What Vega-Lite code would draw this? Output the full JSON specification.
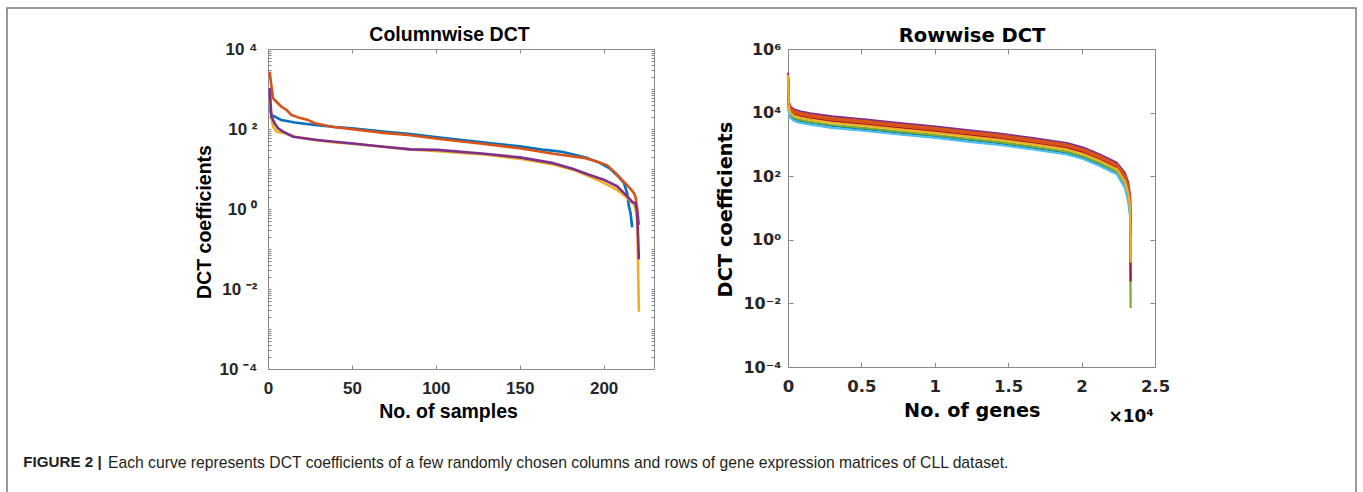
{
  "$schema": "https://vega.github.io/schema/vega-lite/v6.json",
  "width": 1349,
  "height": 486,
  "autosize": {"type": "none"},
  "padding": {"left": 7, "top": 8, "right": 7, "bottom": -2},
  "background": "white",
  "title": {
    "text": "Each curve represents DCT coefficients of a few randomly chosen columns and rows of gene expression matrices of CLL dataset.",
    "orient": "top",
    "anchor": "start",
    "frame": "group",
    "offset": -475.5,
    "dx": 101,
    "baseline": "alphabetic",
    "font": "Liberation Sans",
    "fontSize": 15.7,
    "fontWeight": "normal",
    "color": "#231f20"
  },
  "datasets": {
    "cols": [
      {"c": "c1", "n": 1, "v": 400}, {"c": "c1", "n": 2, "v": 220}, {"c": "c1", "n": 4, "v": 205}, {"c": "c1", "n": 8, "v": 167}, {"c": "c1", "n": 16, "v": 145}, {"c": "c1", "n": 28, "v": 126}, {"c": "c1", "n": 40, "v": 112}, {"c": "c1", "n": 50, "v": 104}, {"c": "c1", "n": 70, "v": 85}, {"c": "c1", "n": 85, "v": 75}, {"c": "c1", "n": 101, "v": 62}, {"c": "c1", "n": 129, "v": 46}, {"c": "c1", "n": 150, "v": 37}, {"c": "c1", "n": 165, "v": 30}, {"c": "c1", "n": 175, "v": 27}, {"c": "c1", "n": 182, "v": 23}, {"c": "c1", "n": 190, "v": 19}, {"c": "c1", "n": 198, "v": 14}, {"c": "c1", "n": 204, "v": 10}, {"c": "c1", "n": 208, "v": 7}, {"c": "c1", "n": 212, "v": 4.5}, {"c": "c1", "n": 214, "v": 2.5}, {"c": "c1", "n": 215, "v": 1.2}, {"c": "c1", "n": 216, "v": 0.8}, {"c": "c1", "n": 217, "v": 0.35},
      {"c": "c2", "n": 1, "v": 2700}, {"c": "c2", "n": 2, "v": 1200}, {"c": "c2", "n": 3, "v": 590}, {"c": "c2", "n": 5, "v": 480}, {"c": "c2", "n": 8, "v": 360}, {"c": "c2", "n": 11, "v": 300}, {"c": "c2", "n": 14, "v": 224}, {"c": "c2", "n": 18, "v": 195}, {"c": "c2", "n": 24, "v": 167}, {"c": "c2", "n": 28, "v": 139}, {"c": "c2", "n": 39, "v": 112}, {"c": "c2", "n": 49, "v": 100}, {"c": "c2", "n": 69, "v": 80}, {"c": "c2", "n": 85, "v": 70}, {"c": "c2", "n": 101, "v": 57}, {"c": "c2", "n": 129, "v": 42}, {"c": "c2", "n": 150, "v": 33}, {"c": "c2", "n": 170, "v": 24}, {"c": "c2", "n": 188, "v": 19}, {"c": "c2", "n": 196, "v": 15.5}, {"c": "c2", "n": 202, "v": 12.5}, {"c": "c2", "n": 207, "v": 8}, {"c": "c2", "n": 212, "v": 4.8}, {"c": "c2", "n": 216, "v": 3.2}, {"c": "c2", "n": 218, "v": 2.5}, {"c": "c2", "n": 219, "v": 2}, {"c": "c2", "n": 220, "v": 1.0}, {"c": "c2", "n": 221, "v": 0.4},
      {"c": "c3", "n": 1, "v": 500}, {"c": "c3", "n": 2, "v": 200}, {"c": "c3", "n": 3, "v": 115}, {"c": "c3", "n": 5, "v": 86}, {"c": "c3", "n": 10, "v": 78}, {"c": "c3", "n": 16, "v": 64}, {"c": "c3", "n": 26, "v": 55}, {"c": "c3", "n": 40, "v": 46}, {"c": "c3", "n": 50, "v": 43}, {"c": "c3", "n": 68, "v": 36}, {"c": "c3", "n": 85, "v": 31}, {"c": "c3", "n": 101, "v": 28}, {"c": "c3", "n": 129, "v": 23}, {"c": "c3", "n": 150, "v": 18}, {"c": "c3", "n": 170, "v": 13}, {"c": "c3", "n": 182, "v": 9.5}, {"c": "c3", "n": 190, "v": 7}, {"c": "c3", "n": 200, "v": 4.5}, {"c": "c3", "n": 208, "v": 3}, {"c": "c3", "n": 214, "v": 1.9}, {"c": "c3", "n": 218, "v": 1.3}, {"c": "c3", "n": 219, "v": 1.0}, {"c": "c3", "n": 220, "v": 0.5}, {"c": "c3", "n": 221, "v": 0.0027},
      {"c": "c4", "n": 1, "v": 1050}, {"c": "c4", "n": 2, "v": 205}, {"c": "c4", "n": 4, "v": 138}, {"c": "c4", "n": 6, "v": 104}, {"c": "c4", "n": 9, "v": 86}, {"c": "c4", "n": 15, "v": 64}, {"c": "c4", "n": 29, "v": 53}, {"c": "c4", "n": 49, "v": 44}, {"c": "c4", "n": 69, "v": 36}, {"c": "c4", "n": 85, "v": 31}, {"c": "c4", "n": 101, "v": 30}, {"c": "c4", "n": 129, "v": 24}, {"c": "c4", "n": 150, "v": 19.5}, {"c": "c4", "n": 170, "v": 14}, {"c": "c4", "n": 182, "v": 10}, {"c": "c4", "n": 190, "v": 7.5}, {"c": "c4", "n": 200, "v": 5.4}, {"c": "c4", "n": 208, "v": 3.7}, {"c": "c4", "n": 214, "v": 2.1}, {"c": "c4", "n": 217, "v": 1.5}, {"c": "c4", "n": 219, "v": 1.4}, {"c": "c4", "n": 220, "v": 0.8}, {"c": "c4", "n": 221, "v": 0.055}
    ],
    "rows": [
      {"r": "r1", "n": 1, "v": 90000}, {"r": "r1", "n": 60, "v": 11200}, {"r": "r1", "n": 150, "v": 7920}, {"r": "r1", "n": 400, "v": 6310}, {"r": "r1", "n": 800, "v": 5510}, {"r": "r1", "n": 1500, "v": 4790}, {"r": "r1", "n": 3000, "v": 3800}, {"r": "r1", "n": 5300, "v": 3020}, {"r": "r1", "n": 7600, "v": 2350}, {"r": "r1", "n": 9900, "v": 1860}, {"r": "r1", "n": 12200, "v": 1410}, {"r": "r1", "n": 14400, "v": 1100}, {"r": "r1", "n": 16700, "v": 792}, {"r": "r1", "n": 19000, "v": 551}, {"r": "r1", "n": 20100, "v": 398}, {"r": "r1", "n": 21200, "v": 245}, {"r": "r1", "n": 22400, "v": 132}, {"r": "r1", "n": 22950, "v": 51}, {"r": "r1", "n": 23180, "v": 19.5}, {"r": "r1", "n": 23300, "v": 7.2}, {"r": "r1", "n": 23340, "v": 1.5},
      {"r": "r2", "n": 1, "v": 100000}, {"r": "r2", "n": 60, "v": 12000}, {"r": "r2", "n": 150, "v": 8480}, {"r": "r2", "n": 400, "v": 6770}, {"r": "r2", "n": 800, "v": 5910}, {"r": "r2", "n": 1500, "v": 5130}, {"r": "r2", "n": 3000, "v": 4080}, {"r": "r2", "n": 5300, "v": 3240}, {"r": "r2", "n": 7600, "v": 2510}, {"r": "r2", "n": 9900, "v": 2000}, {"r": "r2", "n": 12200, "v": 1510}, {"r": "r2", "n": 14400, "v": 1180}, {"r": "r2", "n": 16700, "v": 849}, {"r": "r2", "n": 19000, "v": 591}, {"r": "r2", "n": 20100, "v": 426}, {"r": "r2", "n": 21200, "v": 263}, {"r": "r2", "n": 22400, "v": 141}, {"r": "r2", "n": 22950, "v": 56}, {"r": "r2", "n": 23180, "v": 22}, {"r": "r2", "n": 23300, "v": 8.1}, {"r": "r2", "n": 23340, "v": 0.0072},
      {"r": "r3", "n": 1, "v": 80000}, {"r": "r3", "n": 60, "v": 9790}, {"r": "r3", "n": 150, "v": 6900}, {"r": "r3", "n": 400, "v": 5510}, {"r": "r3", "n": 800, "v": 4810}, {"r": "r3", "n": 1500, "v": 4170}, {"r": "r3", "n": 3000, "v": 3320}, {"r": "r3", "n": 5300, "v": 2640}, {"r": "r3", "n": 7600, "v": 2050}, {"r": "r3", "n": 9900, "v": 1630}, {"r": "r3", "n": 12200, "v": 1230}, {"r": "r3", "n": 14400, "v": 957}, {"r": "r3", "n": 16700, "v": 690}, {"r": "r3", "n": 19000, "v": 481}, {"r": "r3", "n": 20100, "v": 347}, {"r": "r3", "n": 21200, "v": 214}, {"r": "r3", "n": 22400, "v": 115}, {"r": "r3", "n": 22950, "v": 43}, {"r": "r3", "n": 23180, "v": 15.4}, {"r": "r3", "n": 23300, "v": 5.6}, {"r": "r3", "n": 23340, "v": 2},
      {"r": "r4", "n": 1, "v": 178000}, {"r": "r4", "n": 60, "v": 22400}, {"r": "r4", "n": 150, "v": 15800}, {"r": "r4", "n": 400, "v": 12600}, {"r": "r4", "n": 800, "v": 11000}, {"r": "r4", "n": 1500, "v": 9550}, {"r": "r4", "n": 3000, "v": 7590}, {"r": "r4", "n": 5300, "v": 6030}, {"r": "r4", "n": 7600, "v": 4680}, {"r": "r4", "n": 9900, "v": 3720}, {"r": "r4", "n": 12200, "v": 2820}, {"r": "r4", "n": 14400, "v": 2190}, {"r": "r4", "n": 16700, "v": 1580}, {"r": "r4", "n": 19000, "v": 1100}, {"r": "r4", "n": 20100, "v": 794}, {"r": "r4", "n": 21200, "v": 490}, {"r": "r4", "n": 22400, "v": 263}, {"r": "r4", "n": 22950, "v": 126}, {"r": "r4", "n": 23180, "v": 63}, {"r": "r4", "n": 23300, "v": 25}, {"r": "r4", "n": 23340, "v": 4},
      {"r": "r5", "n": 1, "v": 150000}, {"r": "r5", "n": 60, "v": 20000}, {"r": "r5", "n": 150, "v": 14100}, {"r": "r5", "n": 400, "v": 11200}, {"r": "r5", "n": 800, "v": 9800}, {"r": "r5", "n": 1500, "v": 8510}, {"r": "r5", "n": 3000, "v": 6760}, {"r": "r5", "n": 5300, "v": 5370}, {"r": "r5", "n": 7600, "v": 4170}, {"r": "r5", "n": 9900, "v": 3310}, {"r": "r5", "n": 12200, "v": 2510}, {"r": "r5", "n": 14400, "v": 1950}, {"r": "r5", "n": 16700, "v": 1410}, {"r": "r5", "n": 19000, "v": 980}, {"r": "r5", "n": 20100, "v": 707}, {"r": "r5", "n": 21200, "v": 437}, {"r": "r5", "n": 22400, "v": 234}, {"r": "r5", "n": 22950, "v": 108}, {"r": "r5", "n": 23180, "v": 52}, {"r": "r5", "n": 23300, "v": 20}, {"r": "r5", "n": 23340, "v": 3},
      {"r": "r6", "n": 1, "v": 120000}, {"r": "r6", "n": 60, "v": 15900}, {"r": "r6", "n": 150, "v": 11200}, {"r": "r6", "n": 400, "v": 8920}, {"r": "r6", "n": 800, "v": 7790}, {"r": "r6", "n": 1500, "v": 6760}, {"r": "r6", "n": 3000, "v": 5370}, {"r": "r6", "n": 5300, "v": 4270}, {"r": "r6", "n": 7600, "v": 3310}, {"r": "r6", "n": 9900, "v": 2630}, {"r": "r6", "n": 12200, "v": 2000}, {"r": "r6", "n": 14400, "v": 1550}, {"r": "r6", "n": 16700, "v": 1120}, {"r": "r6", "n": 19000, "v": 779}, {"r": "r6", "n": 20100, "v": 562}, {"r": "r6", "n": 21200, "v": 347}, {"r": "r6", "n": 22400, "v": 186}, {"r": "r6", "n": 22950, "v": 80}, {"r": "r6", "n": 23180, "v": 35}, {"r": "r6", "n": 23300, "v": 13.4}, {"r": "r6", "n": 23340, "v": 0.049},
      {"r": "r7", "n": 1, "v": 140000}, {"r": "r7", "n": 60, "v": 17800}, {"r": "r7", "n": 150, "v": 12500}, {"r": "r7", "n": 400, "v": 10000}, {"r": "r7", "n": 800, "v": 8730}, {"r": "r7", "n": 1500, "v": 7580}, {"r": "r7", "n": 3000, "v": 6030}, {"r": "r7", "n": 5300, "v": 4790}, {"r": "r7", "n": 7600, "v": 3720}, {"r": "r7", "n": 9900, "v": 2950}, {"r": "r7", "n": 12200, "v": 2240}, {"r": "r7", "n": 14400, "v": 1740}, {"r": "r7", "n": 16700, "v": 1250}, {"r": "r7", "n": 19000, "v": 873}, {"r": "r7", "n": 20100, "v": 630}, {"r": "r7", "n": 21200, "v": 389}, {"r": "r7", "n": 22400, "v": 209}, {"r": "r7", "n": 22950, "v": 93}, {"r": "r7", "n": 23180, "v": 43}, {"r": "r7", "n": 23300, "v": 16.5}, {"r": "r7", "n": 23340, "v": 2.5},
      {"r": "r8", "n": 1, "v": 155000}, {"r": "r8", "n": 60, "v": 14100}, {"r": "r8", "n": 150, "v": 9970}, {"r": "r8", "n": 400, "v": 7950}, {"r": "r8", "n": 800, "v": 6940}, {"r": "r8", "n": 1500, "v": 6030}, {"r": "r8", "n": 3000, "v": 4790}, {"r": "r8", "n": 5300, "v": 3800}, {"r": "r8", "n": 7600, "v": 2950}, {"r": "r8", "n": 9900, "v": 2350}, {"r": "r8", "n": 12200, "v": 1780}, {"r": "r8", "n": 14400, "v": 1380}, {"r": "r8", "n": 16700, "v": 997}, {"r": "r8", "n": 19000, "v": 694}, {"r": "r8", "n": 20100, "v": 501}, {"r": "r8", "n": 21200, "v": 309}, {"r": "r8", "n": 22400, "v": 166}, {"r": "r8", "n": 22950, "v": 69}, {"r": "r8", "n": 23180, "v": 29}, {"r": "r8", "n": 23300, "v": 10.9}, {"r": "r8", "n": 23340, "v": 0.19}
    ]
  },
  "layer": [
    {
      "data": {"name": "cols"},
      "mark": {"type": "line", "strokeWidth": 2.6, "strokeJoin": "round"},
      "encoding": {
        "x": {
          "field": "n", "type": "quantitative",
          "scale": {"domain": [0, 230], "range": [261, 647], "nice": false, "zero": false},
          "axis": {
            "orient": "bottom", "offset": -125, "values": [0, 50, 100, 150, 200],
            "tickSize": -4, "labelPadding": 15.4,
            "labelFont": "Liberation Sans", "labelFontSize": 17, "labelFontWeight": "bold",
            "title": "No. of samples", "titleFont": "Liberation Sans", "titleFontSize": 19.5, "titleFontWeight": "bold",
            "titleX": 441, "titleY": 48.5, "titleAlign": "center", "titleBaseline": "alphabetic", "titleAngle": 0
          }
        },
        "y": {
          "field": "v", "type": "quantitative",
          "scale": {"type": "log", "domain": [0.0001, 10000], "range": [361, 41], "nice": false},
          "axis": {
            "orient": "left", "offset": -261,
            "values": [0.0001,0.0002,0.0003,0.0004,0.0005,0.0006,0.0007,0.0008,0.0009,0.001,0.002,0.003,0.004,0.005,0.006,0.007,0.008,0.009,0.01,0.02,0.03,0.04,0.05,0.06,0.07,0.08,0.09,0.1,0.2,0.3,0.4,0.5,0.6,0.7,0.8,0.9,1,2,3,4,5,6,7,8,9,10,20,30,40,50,60,70,80,90,100,200,300,400,500,600,700,800,900,1000,2000,3000,4000,5000,6000,7000,8000,9000,10000],
            "tickSize": -3, "labelPadding": 14,
            "labelExpr": "datum.value === 10000 ? '10 ⁴' : datum.value === 100 ? '10 ²' : datum.value === 1 ? '10 ⁰' : datum.value === 0.01 ? '10 ⁻²' : datum.value === 0.0001 ? '10 ⁻⁴' : ''",
            "labelFont": "Liberation Sans", "labelFontSize": 17, "labelFontWeight": "bold",
            "title": "DCT coefficients", "titleFont": "Liberation Sans", "titleFontSize": 19.5, "titleFontWeight": "bold",
            "titleX": -58, "titleY": 213.5, "titleAngle": 270, "titleAlign": "center", "titleBaseline": "alphabetic"
          }
        },
        "color": {
          "field": "c", "type": "nominal", "legend": null,
          "scale": {"domain": ["c1", "c2", "c3", "c4"], "range": ["#0072BD", "#D95319", "#EDB120", "#7E2F8E"]}
        }
      }
    },
    {
      "data": {"name": "cols"},
      "mark": {"type": "line", "opacity": 0},
      "encoding": {
        "x": {
          "field": "n", "type": "quantitative",
          "scale": {"domain": [0, 230], "range": [261, 647], "nice": false, "zero": false},
          "axis": {
            "orient": "top", "offset": -41, "values": [0, 50, 100, 150, 200],
            "tickSize": -4, "labels": false,
            "title": "Columnwise DCT", "titleFont": "Liberation Sans", "titleFontSize": 19.5, "titleFontWeight": "bold",
            "titleX": 442, "titleY": -8.3, "titleAlign": "center", "titleBaseline": "alphabetic", "titleAngle": 0
          }
        },
        "y": {
          "field": "v", "type": "quantitative",
          "scale": {"type": "log", "domain": [0.0001, 10000], "range": [361, 41], "nice": false},
          "axis": {
            "orient": "right", "offset": -702,
            "values": [0.0001,0.0002,0.0003,0.0004,0.0005,0.0006,0.0007,0.0008,0.0009,0.001,0.002,0.003,0.004,0.005,0.006,0.007,0.008,0.009,0.01,0.02,0.03,0.04,0.05,0.06,0.07,0.08,0.09,0.1,0.2,0.3,0.4,0.5,0.6,0.7,0.8,0.9,1,2,3,4,5,6,7,8,9,10,20,30,40,50,60,70,80,90,100,200,300,400,500,600,700,800,900,1000,2000,3000,4000,5000,6000,7000,8000,9000,10000],
            "tickSize": -3, "labels": false,
            "title": "FIGURE 2 |", "titleFont": "Liberation Sans", "titleFontSize": 15.2, "titleFontWeight": "bold", "titleColor": "#231f20",
            "titleX": -631.3, "titleY": 458.7, "titleAngle": 0, "titleAlign": "left", "titleBaseline": "alphabetic"
          }
        }
      }
    },
    {
      "data": {"name": "rows"},
      "mark": {"type": "line", "strokeWidth": 2.2, "strokeJoin": "round"},
      "encoding": {
        "x": {
          "field": "n", "type": "quantitative",
          "scale": {"domain": [0, 25000], "range": [781, 1148], "nice": false, "zero": false},
          "axis": {
            "orient": "bottom", "offset": -127, "values": [0, 5000, 10000, 15000, 20000, 25000],
            "tickSize": -5, "labelPadding": 16.5,
            "labelExpr": "'' + datum.value / 10000",
            "labelFont": "DejaVu Sans", "labelFontSize": 16.5, "labelFontWeight": "bold",
            "title": "No. of genes", "titleFont": "DejaVu Sans", "titleFontSize": 19.2, "titleFontWeight": "bold",
            "titleX": 964.7, "titleY": 49, "titleAlign": "center", "titleBaseline": "alphabetic", "titleAngle": 0
          }
        },
        "y": {
          "field": "v", "type": "quantitative",
          "scale": {"type": "log", "domain": [0.0001, 1000000], "range": [359, 41], "nice": false},
          "axis": {
            "orient": "left", "offset": -781,
            "values": [0.0001, 0.01, 1, 100, 10000, 1000000],
            "tickSize": -5, "labelPadding": 12.3,
            "labelExpr": "datum.value === 1000000 ? '10⁶' : datum.value === 10000 ? '10⁴' : datum.value === 100 ? '10²' : datum.value === 1 ? '10⁰' : datum.value === 0.01 ? '10⁻²' : '10⁻⁴'",
            "labelFont": "DejaVu Sans", "labelFontSize": 16, "labelFontWeight": "bold",
            "title": "DCT coefficients", "titleFont": "DejaVu Sans", "titleFontSize": 19.4, "titleFontWeight": "bold",
            "titleX": -56.5, "titleY": 201, "titleAngle": 270, "titleAlign": "center", "titleBaseline": "alphabetic"
          }
        },
        "color": {
          "field": "r", "type": "nominal", "legend": null,
          "scale": {"domain": ["r1", "r2", "r3", "r4", "r5", "r6", "r7", "r8"], "range": ["#0072BD", "#77AC30", "#4DBEEE", "#7E2F8E", "#D95319", "#A2142F", "#D95319", "#EDB120"]}
        }
      }
    },
    {
      "data": {"name": "rows"},
      "mark": {"type": "line", "opacity": 0},
      "encoding": {
        "x": {
          "field": "n", "type": "quantitative",
          "scale": {"domain": [0, 25000], "range": [781, 1148], "nice": false, "zero": false},
          "axis": {
            "orient": "top", "offset": -41, "values": [0, 5000, 10000, 15000, 20000, 25000],
            "tickSize": -5, "labels": false,
            "title": "Rowwise DCT", "titleFont": "DejaVu Sans", "titleFontSize": 19.5, "titleFontWeight": "bold",
            "titleX": 964.5, "titleY": -7.3, "titleAlign": "center", "titleBaseline": "alphabetic", "titleAngle": 0
          }
        },
        "y": {
          "field": "v", "type": "quantitative",
          "scale": {"type": "log", "domain": [0.0001, 1000000], "range": [359, 41], "nice": false},
          "axis": {
            "orient": "right", "offset": -201,
            "values": [0.0001, 0.01, 1, 100, 10000, 1000000],
            "tickSize": -5, "labels": false,
            "title": "×10⁴", "titleFont": "DejaVu Sans", "titleFontSize": 17, "titleFontWeight": "bold",
            "titleX": -1.7, "titleY": 413.7, "titleAngle": 0, "titleAlign": "right", "titleBaseline": "alphabetic"
          }
        }
      }
    }
  ],
  "resolve": {
    "scale": {"x": "independent", "y": "independent", "color": "independent"},
    "axis": {"x": "independent", "y": "independent"}
  },
  "config": {
    "font": "Liberation Sans",
    "view": {"stroke": "#7a7a7a", "strokeWidth": 1.5},
    "axis": {
      "grid": false,
      "labelOverlap": false,
      "labelFlush": false,
      "labelBound": false,
      "domainColor": "#8a8a8a",
      "domainWidth": 1,
      "tickColor": "#8a8a8a",
      "tickWidth": 1,
      "labelColor": "#262626",
      "titleColor": "#000000"
    }
  }
}
